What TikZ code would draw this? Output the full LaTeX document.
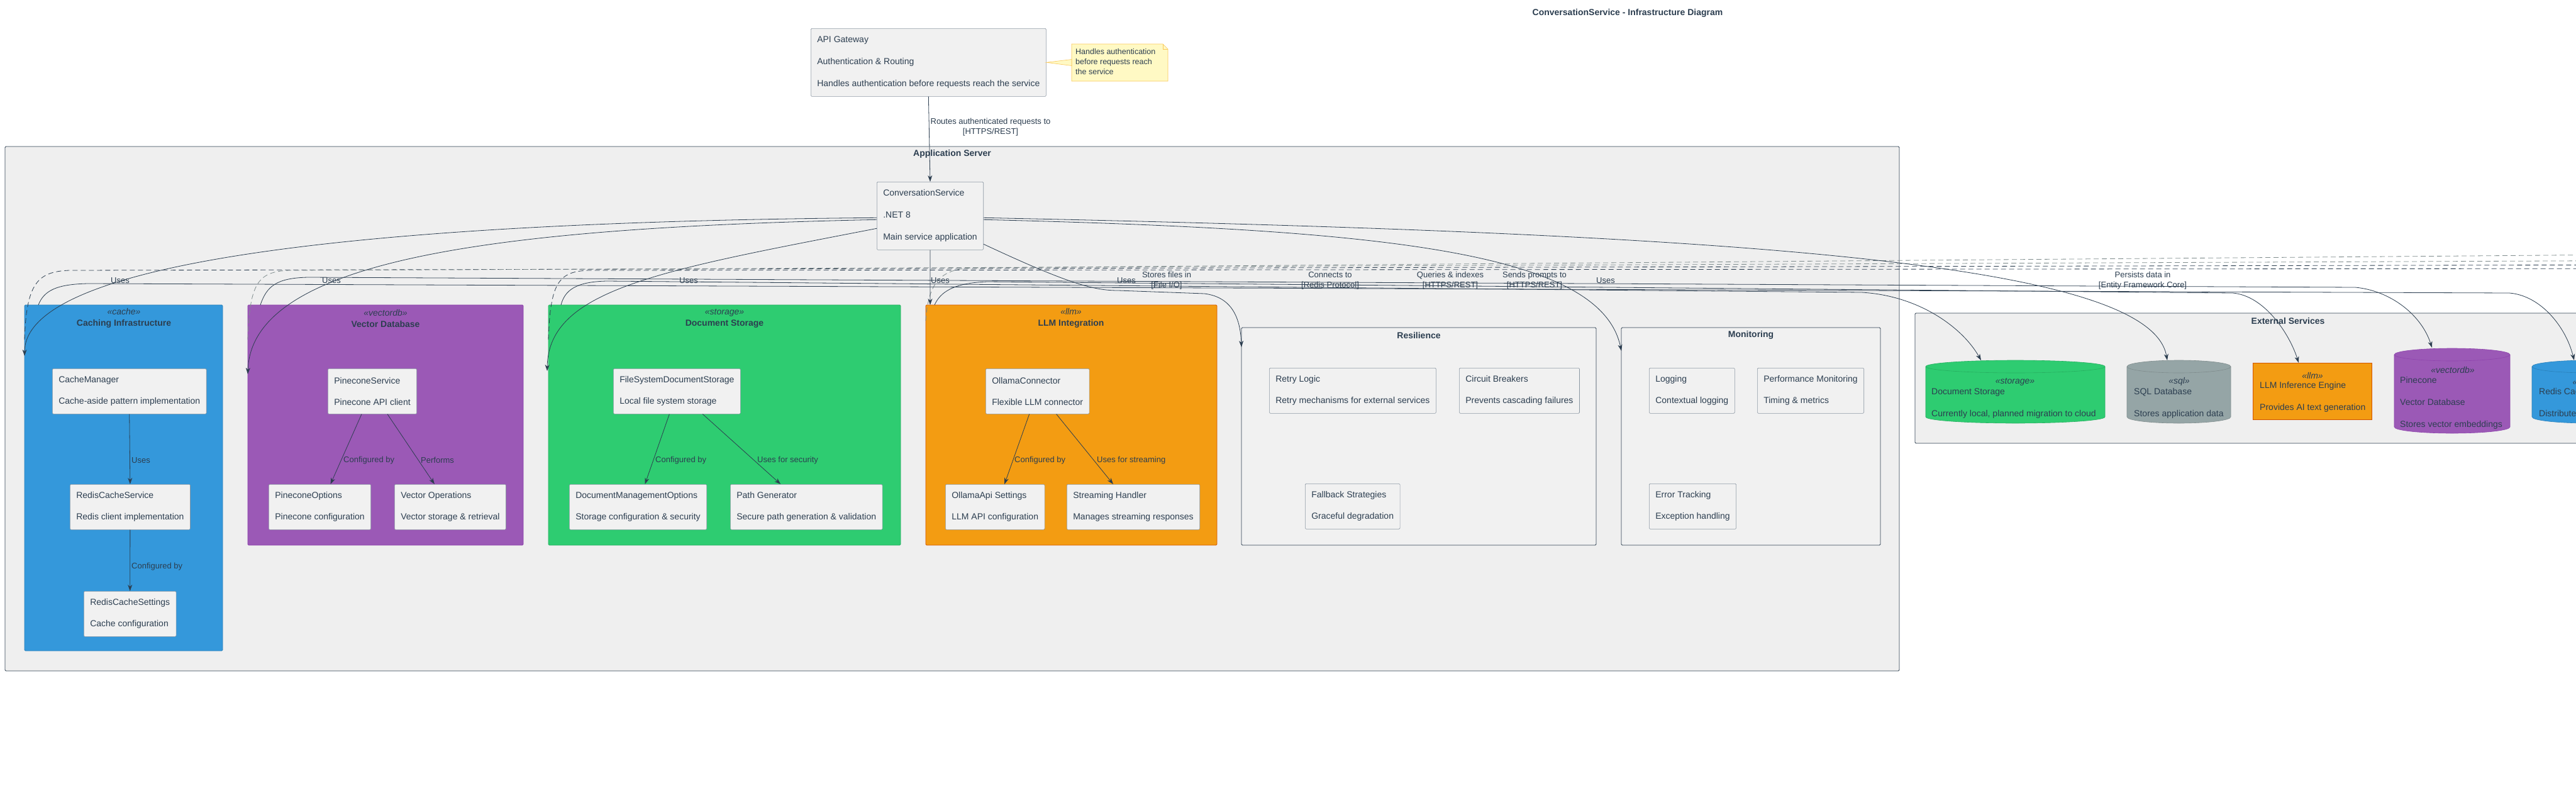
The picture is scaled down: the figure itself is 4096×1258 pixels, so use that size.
\documentclass[tikz,border=0pt]{standalone}
\usepackage{fontspec}
\setmainfont{Liberation Sans}
\usetikzlibrary{arrows.meta,calc}
%
\definecolor{ink}{RGB}{44,62,80}
\definecolor{appfill}{RGB}{239,239,239}
\definecolor{boxfill}{RGB}{241,241,241}
\definecolor{boxline}{RGB}{138,150,162}
\definecolor{cachefill}{RGB}{52,152,219}
\definecolor{cacheline}{RGB}{41,128,185}
\definecolor{vecfill}{RGB}{155,89,182}
\definecolor{vecline}{RGB}{142,68,173}
\definecolor{docfill}{RGB}{46,204,113}
\definecolor{docline}{RGB}{39,174,96}
\definecolor{llmfill}{RGB}{243,156,18}
\definecolor{llmline}{RGB}{211,84,0}
\definecolor{sqlfill}{RGB}{149,165,166}
\definecolor{sqlline}{RGB}{127,140,141}
\definecolor{notefill}{RGB}{255,249,196}
\definecolor{noteline}{RGB}{250,200,90}
\definecolor{depgray}{RGB}{127,140,141}
%
\tikzset{
  grp/.style={anchor=north west, inner sep=0pt, outer sep=0pt, rounded corners=1.5pt, line width=0.8pt},
  grpttl/.style={align=center, text=ink, inner sep=0pt, font=\fontsize{14}{18}\selectfont},
  comp/.style={anchor=north west, draw=boxline, fill=boxfill, line width=0.6pt, rounded corners=1.5pt,
    align=left, text=ink, inner xsep=10pt, inner ysep=0pt, minimum height=72pt, font=\fontsize{14}{17}\selectfont},
  stereo/.style={text=ink, inner sep=0pt, font=\fontsize{14}{17}\selectfont\itshape},
  exttxt/.style={anchor=west, align=left, text=ink, inner sep=0pt, font=\fontsize{14}{17}\selectfont},
  conn/.style={draw=ink, line width=0.8pt, -{Stealth[length=10pt,width=7pt,inset=3pt]}},
  dep/.style={draw=ink, line width=0.8pt, dash pattern=on 8pt off 5pt},
  lbl/.style={align=center, text=ink, inner sep=0pt, font=\fontsize{13}{16}\selectfont},
}
% cylinder: x left, x right, y top, y bottom, fill, line
\newcommand{\dbcyl}[6]{%
  \filldraw[fill=#5, draw=#6, line width=0.6pt] (#1,#3+10) -- (#1,#4-10)
    arc[start angle=180, end angle=0, x radius={(#2-#1)/2}, y radius=10] -- (#2,#3+10)
    arc[start angle=0, end angle=-180, x radius={(#2-#1)/2}, y radius=10] -- cycle;
  \draw[draw=#6, line width=0.6pt] (#1,#3+10) arc[start angle=180, end angle=0, x radius={(#2-#1)/2}, y radius=10];
}
%
\begin{document}
\begin{tikzpicture}[x=1pt,y=-1pt]
\useasboundingbox (0,0) rectangle (4096,1258);
\fill[white] (0,0) rectangle (4096,1258);
%
\node[grpttl] (title) at (2588,21) {\textbf{ConversationService - Infrastructure Diagram}};
%
% gateway and note
\node[comp, minimum height=108pt] (gw) at (1289,45) {API Gateway\\[18pt]Authentication \& Routing\\[18pt]Handles authentication before requests reach the service};
\node[anchor=north west, inner sep=0pt, outer sep=0pt, minimum width=153pt, minimum height=59pt] (note) at (1704,70) {};
\filldraw[fill=notefill, draw=noteline, line width=0.6pt] (note.north west) -- ($(note.north east)+(-8,0)$) -- ($(note.north east)+(0,8)$) -- (note.south east) -- (note.south west) -- cycle;
\draw[noteline, line width=0.6pt] ($(note.north east)+(-8,0)$) -- ($(note.north east)+(-8,8)$) -- ($(note.north east)+(0,8)$);
\node[anchor=north west, align=left, text=ink, inner sep=0pt, font=\fontsize{12.5}{16}\selectfont] (notetxt) at (1710,77) {Handles authentication\\before requests reach\\the service};
\filldraw[fill=notefill, draw=noteline, line width=0.6pt] (gw.east) -- ($(note.west)+(0,-5)$) -- ($(note.west)+(0,5)$) -- cycle;
%
% application server
\node[grp, draw=ink, fill=appfill, minimum width=3012pt, minimum height=834pt] (appsrv) at (8,233) {};
\node[grpttl] (appttl) at (1514,245) {\textbf{Application Server}};
\node[comp, minimum height=108pt] (conv) at (1394,289) {ConversationService\\[18pt].NET 8\\[18pt]Main service application};
%
\node[grp, draw=cacheline, fill=cachefill, minimum width=315pt, minimum height=550pt] (cachegrp) at (39,485) {};
\node[grpttl] (cachettl) at (197,506) {\textit{«cache»}\\\textbf{Caching Infrastructure}};
\node[grp, draw=vecline, fill=vecfill, minimum width=438pt, minimum height=382pt] (vecgrp) at (394,485) {};
\node[grpttl] (vecttl) at (613,506) {\textit{«vectordb»}\\\textbf{Vector Database}};
\node[grp, draw=docline, fill=docfill, minimum width=560pt, minimum height=382pt] (docgrp) at (872,485) {};
\node[grpttl] (docttl) at (1152,506) {\textit{«storage»}\\\textbf{Document Storage}};
\node[grp, draw=llmline, fill=llmfill, minimum width=463pt, minimum height=382pt] (llmgrp) at (1472,485) {};
\node[grpttl] (llmttl) at (1703,506) {\textit{«llm»}\\\textbf{LLM Integration}};
\node[grp, draw=ink, fill=boxfill, minimum width=564pt, minimum height=346pt] (resgrp) at (1974,521) {};
\node[grpttl] (resttl) at (2256,533) {\textbf{Resilience}};
\node[grp, draw=ink, fill=boxfill, minimum width=412pt, minimum height=346pt] (mongrp) at (2578,521) {};
\node[grpttl] (monttl) at (2784,533) {\textbf{Monitoring}};
%
\node[comp] (cachemgr) at (83,586) {CacheManager\\[17pt]Cache-aside pattern implementation};
\node[comp] (rediscs) at (111,770) {RedisCacheService\\[17pt]Redis client implementation};
\node[comp] (redisset) at (133,940) {RedisCacheSettings\\[17pt]Cache configuration};
\node[comp] (pcsvc) at (521,586) {PineconeService\\[17pt]Pinecone API client};
\node[comp] (pcopt) at (427,770) {PineconeOptions\\[17pt]Pinecone configuration};
\node[comp] (vecops) at (627,770) {Vector Operations\\[17pt]Vector storage \& retrieval};
\node[comp] (fsds) at (975,586) {FileSystemDocumentStorage\\[17pt]Local file system storage};
\node[comp] (dmo) at (905,770) {DocumentManagementOptions\\[17pt]Storage configuration \& security};
\node[comp] (pathgen) at (1161,770) {Path Generator\\[17pt]Secure path generation \& validation};
\node[comp] (ollama) at (1567,586) {OllamaConnector\\[17pt]Flexible LLM connector};
\node[comp] (ollset) at (1503,770) {OllamaApi Settings\\[17pt]LLM API configuration};
\node[comp] (streamh) at (1696,770) {Streaming Handler\\[17pt]Manages streaming responses};
\node[comp] (retry) at (2018,585) {Retry Logic\\[17pt]Retry mechanisms for external services};
\node[comp] (circuit) at (2320,585) {Circuit Breakers\\[17pt]Prevents cascading failures};
\node[comp] (fallback) at (2075,769) {Fallback Strategies\\[17pt]Graceful degradation};
\node[comp] (logging) at (2622,585) {Logging\\[17pt]Contextual logging};
\node[comp] (perfmon) at (2794,585) {Performance Monitoring\\[17pt]Timing \& metrics};
\node[comp] (errtrack) at (2622,769) {Error Tracking\\[17pt]Exception handling};
%
% external services
\node[grp, draw=ink, fill=appfill, minimum width=1186pt, minimum height=207pt] (extgrp) at (3045,498) {};
\node[grpttl] (extttl) at (3638,510) {\textbf{External Services}};
\dbcyl{3062}{3347}{573}{673}{docfill}{docline}
\node[stereo] (extdocst) at (3204,607) {«storage»};
\node[exttxt] (extdoc) at (3071,641.5) {Document Storage\\[18pt]Currently local, planned migration to cloud};
\dbcyl{3382}{3547}{573}{673}{sqlfill}{sqlline}
\node[stereo] (extsqlst) at (3465,607) {«sql»};
\node[exttxt] (extsql) at (3393,641.5) {SQL Database\\[18pt]Stores application data};
\node[anchor=north west, draw=llmline, fill=llmfill, line width=0.6pt, inner sep=0pt, minimum width=189pt, minimum height=90pt] (extllmbox) at (3582,577) {};
\node[stereo] (extllmst) at (3677,597) {«llm»};
\node[exttxt] (extllm) at (3593,631.5) {LLM Inference Engine\\[18pt]Provides AI text generation};
\dbcyl{3807}{3991}{554}{689}{vecfill}{vecline}
\node[stereo] (extpinest) at (3900,588) {«vectordb»};
\node[exttxt] (extpine) at (3816,641) {Pinecone\\[18pt]Vector Database\\[18pt]Stores vector embeddings};
\dbcyl{4026}{4208}{573}{673}{cachefill}{cacheline}
\node[stereo] (extredisst) at (4117,607) {«cache»};
\node[exttxt] (extredis) at (4037,641.5) {Redis Cache\\[18pt]Distributed caching};
%
\coordinate (extdoctop) at (3150,573);
\coordinate (extsqltop) at (3446,573);
\coordinate (extllmtop) at (3655,577);
\coordinate (extpinetop) at (3867,553);
\coordinate (extredistop) at (4093,573);
\coordinate (offa) at (4300,421);
\coordinate (offb) at (4300,414);
\coordinate (offc) at (4300,427);
\coordinate (offd) at (4300,404);
%
% dashed dependencies
\draw[dep] ($(cachegrp.north west)+(0,55)$) .. controls (42,450) and (60,432) .. (110,430) -- (offa);
\draw[dep, draw=depgray] ($(vecgrp.north west)+(0,55)$) .. controls (397,450) and (410,432) .. (460,430) -- (offb);
\draw[dep] ($(docgrp.north west)+(0,55)$) .. controls (875,450) and (888,432) .. (935,430) -- (offc);
\draw[dep, draw=depgray] ($(llmgrp.north west)+(0,25)$) .. controls (1476,450) and (1495,428) .. (1545,426) -- (offd);
%
% gateway to service
\draw[conn] (gw.south) -- (conv.north);
\node[lbl] (lroute) at (1575,202) {Routes authenticated requests to\\{}[HTTPS/REST]};
%
% service uses
\draw[conn] ($(conv.west)+(0,3)$) .. controls (700,352) and (40,400) .. ($(cachegrp.north west)+(0,81)$);
\draw[conn] ($(conv.west)+(0,6)$) .. controls (800,362) and (400,410) .. ($(vecgrp.north west)+(0,110)$);
\draw[conn] ($(conv.west)+(0,20)$) .. controls (1050,430) and (872,460) .. ($(docgrp.north west)+(-2,105)$);
\draw[conn] (conv.south) -- ($(llmgrp.north west)+(7,0)$);
\draw[conn] ($(conv.east)+(0,45)$) .. controls (1700,452) and (1740,462) .. (1778,462) -- (1915,467) .. controls (1955,472) and (1972,500) .. ($(resgrp.north west)+(0,31)$);
\draw[conn] ($(conv.east)+(0,6)$) .. controls (2200,365) and (2545,400) .. ($(mongrp.north west)+(0,37)$);
\draw[conn] ($(conv.east)+(0,3)$) .. controls (2800,372) and (3420,420) .. (extsqltop);
%
% outbound to external services
\draw[conn] ($(cachegrp.north west)+(22,0)$) .. controls (70,462) and (90,452) .. (140,451) -- (3990,466) .. controls (4040,470) and (4080,520) .. (extredistop);
\draw[conn] ($(vecgrp.north west)+(20,0)$) .. controls (424,455) and (440,442) .. (490,441) -- (3745,457) .. controls (3800,462) and (3850,500) .. (extpinetop);
\draw[conn] ($(docgrp.north west)+(20,0)$) .. controls (898,462) and (915,448) .. (965,447) -- (2960,465) .. controls (3050,470) and (3120,520) .. (extdoctop);
\draw[conn] ($(llmgrp.north west)+(14,0)$) .. controls (1495,465) and (1515,450) .. (1570,448) -- (3550,466) .. controls (3600,470) and (3640,530) .. (extllmtop);
%
\node[lbl] (lusecache) at (191,446) {Uses};
\node[lbl] (lusevec) at (527,446) {Uses};
\node[lbl] (lusedoc) at (1095,446) {Uses};
\node[lbl] (lusellm) at (1495,446) {Uses};
\node[lbl] (luseres) at (1791,446) {Uses};
\node[lbl] (lusemon) at (2553,446) {Uses};
\node[lbl] (lfiles) at (1855,446) {Stores files in\\{}[File I/O]};
\node[lbl] (lredis) at (2115,446) {Connects to\\{}[Redis Protocol]};
\node[lbl] (lpine) at (2306,446) {Queries \& indexes\\{}[HTTPS/REST]};
\node[lbl] (lprompt) at (2440,446) {Sends prompts to\\{}[HTTPS/REST]};
\node[lbl] (lsql) at (3407,446) {Persists data in\\{}[Entity Framework Core]};
%
% inside the groups
\draw[conn] (cachemgr.south) -- (rediscs.north);
\draw[conn] (rediscs.south) -- (redisset.north);
\draw[conn] ($(pcsvc.south)+(-17,0)$) -- ($(pcopt.north)+(17,0)$);
\draw[conn] ($(pcsvc.south)+(24,0)$) -- ($(vecops.north)+(-25,0)$);
\draw[conn] ($(fsds.south)+(-12,0)$) -- ($(dmo.north)+(11,0)$);
\draw[conn] ($(fsds.south)+(41,0)$) -- ($(pathgen.north)+(-41,0)$);
\draw[conn] ($(ollama.south)+(-13,0)$) -- ($(ollset.north)+(15,0)$);
\draw[conn] ($(ollama.south)+(30,0)$) -- ($(streamh.north)+(-32,0)$);
\node[lbl, anchor=west] (lcu) at (209,732) {Uses};
\node[lbl, anchor=west] (lcc) at (209,901) {Configured by};
\node[lbl, anchor=west] (lvc) at (546,732) {Configured by};
\node[lbl, anchor=west] (lvp) at (669,732) {Performs};
\node[lbl, anchor=west] (ldc) at (1042,732) {Configured by};
\node[lbl, anchor=west] (lds) at (1204,732) {Uses for security};
\node[lbl, anchor=west] (llc) at (1613,732) {Configured by};
\node[lbl, anchor=west] (lls) at (1744,732) {Uses for streaming};
%
\end{tikzpicture}
\end{document}
